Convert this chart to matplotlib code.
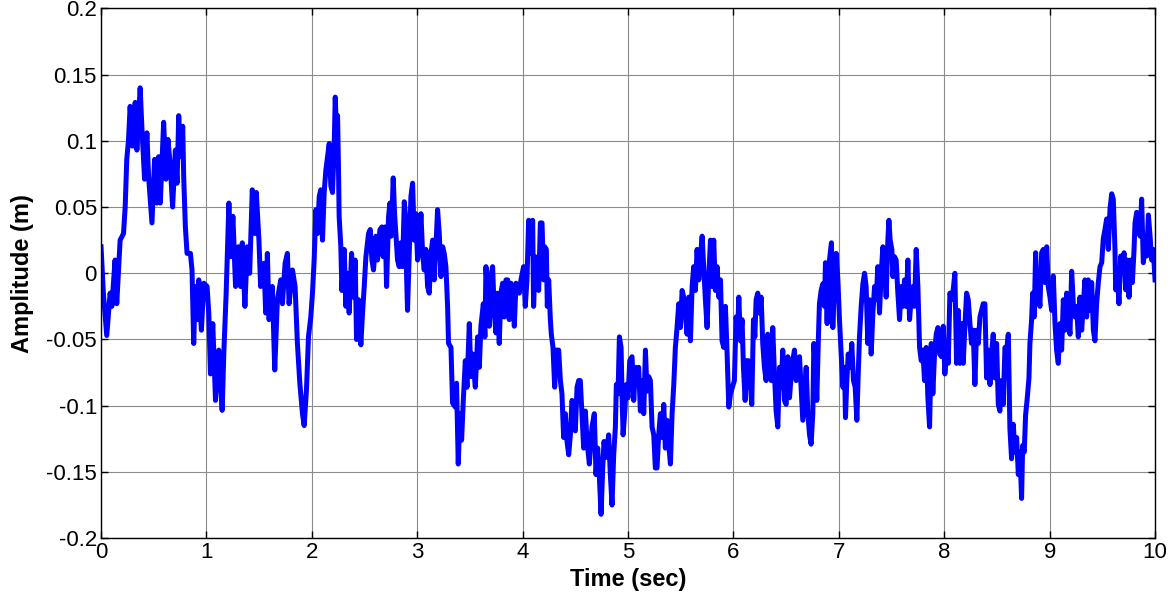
import numpy as np
import matplotlib
matplotlib.use('Agg')
import matplotlib.pyplot as plt

# trace, (time s, amplitude m), split in 2 s chunks
seg_0_2 = [
    (0.000, 0.020), (0.022, -0.015), (0.054, -0.047), (0.086, -0.015), (0.102, -0.025),
    (0.133, 0.010), (0.149, -0.023), (0.181, 0.025), (0.213, 0.030), (0.229, 0.050),
    (0.244, 0.086), (0.260, 0.100), (0.276, 0.126), (0.298, 0.096), (0.324, 0.129),
    (0.340, 0.093), (0.371, 0.140), (0.387, 0.111), (0.413, 0.071), (0.435, 0.106),
    (0.451, 0.073), (0.483, 0.038), (0.508, 0.086), (0.530, 0.053), (0.546, 0.088),
    (0.562, 0.053), (0.594, 0.114), (0.616, 0.071), (0.635, 0.101), (0.657, 0.081),
    (0.679, 0.050), (0.705, 0.093), (0.721, 0.068), (0.737, 0.119), (0.752, 0.088),
    (0.775, 0.111), (0.784, 0.073), (0.800, 0.035), (0.816, 0.015), (0.848, 0.015),
    (0.863, 0.0025), (0.879, -0.053), (0.895, -0.010), (0.911, -0.035), (0.927, -0.005),
    (0.952, -0.043), (0.975, -0.0075), (1.006, -0.010), (1.022, -0.030), (1.038, -0.076),
    (1.060, -0.038), (1.086, -0.096), (1.117, -0.058), (1.149, -0.1035), (1.165, -0.060),
    (1.187, -0.015), (1.213, 0.053), (1.229, 0.0125), (1.251, 0.043), (1.276, -0.010),
    (1.302, 0.020), (1.324, -0.010), (1.340, 0.023), (1.365, -0.025), (1.387, 0.020),
    (1.410, 0.000), (1.435, 0.063), (1.460, 0.030), (1.473, 0.061), (1.498, 0.025),
    (1.514, -0.010), (1.546, 0.0075), (1.562, -0.030), (1.578, 0.015), (1.594, -0.035),
    (1.625, -0.010), (1.648, -0.073), (1.673, -0.020), (1.705, -0.005), (1.721, -0.023),
    (1.746, 0.0075), (1.768, 0.015), (1.784, -0.023), (1.816, 0.0025), (1.841, -0.010),
    (1.863, -0.053), (1.886, -0.083), (1.911, -0.106), (1.927, -0.115), (1.949, -0.088),
    (1.968, -0.048), (1.990, -0.033),
]
seg_2_4 = [
    (2.006, -0.015), (2.022, 0.010), (2.038, 0.048), (2.054, 0.030), (2.070, 0.058),
    (2.085, 0.063), (2.101, 0.025), (2.117, 0.061), (2.133, 0.078), (2.149, 0.088),
    (2.165, 0.098), (2.180, 0.066), (2.196, 0.061), (2.212, 0.096), (2.222, 0.133),
    (2.234, 0.106), (2.244, 0.119), (2.253, 0.078), (2.259, 0.043), (2.275, 0.020),
    (2.285, -0.013), (2.307, 0.018), (2.323, -0.025), (2.339, 0.000), (2.354, -0.030),
    (2.377, 0.015), (2.392, -0.018), (2.411, 0.010), (2.424, -0.050), (2.443, -0.020),
    (2.465, -0.054), (2.481, -0.030), (2.497, -0.010), (2.513, 0.0125), (2.538, 0.030),
    (2.554, 0.033), (2.570, 0.010), (2.585, 0.0025), (2.608, 0.028), (2.623, 0.010),
    (2.646, 0.033), (2.665, 0.035), (2.677, 0.0125), (2.696, 0.035), (2.709, -0.010),
    (2.728, 0.043), (2.741, 0.053), (2.753, 0.028), (2.772, 0.072), (2.785, 0.045),
    (2.797, 0.030), (2.813, 0.010), (2.829, 0.005), (2.845, 0.023), (2.861, 0.005),
    (2.877, 0.054), (2.892, 0.040), (2.899, -0.0025), (2.908, -0.028), (2.924, 0.015),
    (2.940, 0.058), (2.956, 0.068), (2.972, 0.025), (2.987, 0.045), (3.003, 0.010),
    (3.019, 0.020), (3.035, 0.045), (3.051, 0.015), (3.066, 0.0025), (3.082, 0.018),
    (3.098, -0.010), (3.114, -0.015), (3.130, 0.015), (3.146, 0.025), (3.161, -0.005),
    (3.177, 0.020), (3.193, 0.048), (3.209, 0.030), (3.225, -0.0025), (3.241, 0.020),
    (3.256, 0.015), (3.272, 0.005), (3.288, -0.025), (3.297, -0.053), (3.320, -0.056),
    (3.335, -0.098), (3.361, -0.101), (3.373, -0.083), (3.389, -0.144), (3.405, -0.106),
    (3.421, -0.126), (3.437, -0.096), (3.456, -0.066), (3.472, -0.086), (3.494, -0.038),
    (3.509, -0.078), (3.525, -0.061), (3.551, -0.086), (3.573, -0.048), (3.589, -0.071),
    (3.604, -0.040), (3.627, -0.023), (3.642, -0.048), (3.652, 0.005), (3.668, -0.020),
    (3.684, -0.040), (3.699, -0.0025), (3.715, 0.005), (3.731, -0.030), (3.747, -0.045),
    (3.763, -0.015), (3.778, -0.053), (3.794, -0.015), (3.810, -0.0075), (3.826, -0.033),
    (3.842, -0.005), (3.858, -0.005), (3.873, -0.035), (3.889, -0.0075), (3.905, -0.015),
    (3.921, -0.040), (3.937, -0.0075), (3.968, -0.015), (3.984, -0.005),
]
seg_4_6 = [
    (4.009, 0.005), (4.025, -0.025), (4.041, -0.005), (4.057, 0.040), (4.073, 0.035),
    (4.082, 0.015), (4.095, 0.040), (4.104, -0.025), (4.120, 0.0125), (4.136, 0.000),
    (4.152, -0.013), (4.168, 0.038), (4.184, 0.038), (4.199, -0.005), (4.209, 0.020),
    (4.225, 0.018), (4.234, -0.025), (4.247, -0.005), (4.263, -0.035), (4.272, -0.046),
    (4.288, -0.056), (4.304, -0.086), (4.320, -0.058), (4.342, -0.058), (4.358, -0.081),
    (4.373, -0.091), (4.389, -0.124), (4.405, -0.106), (4.421, -0.127), (4.437, -0.137),
    (4.453, -0.122), (4.468, -0.096), (4.484, -0.101), (4.500, -0.119), (4.516, -0.086),
    (4.532, -0.081), (4.547, -0.081), (4.563, -0.106), (4.579, -0.132), (4.595, -0.104),
    (4.611, -0.127), (4.633, -0.144), (4.658, -0.116), (4.680, -0.106), (4.696, -0.152),
    (4.712, -0.132), (4.728, -0.154), (4.744, -0.182), (4.759, -0.149), (4.772, -0.127),
    (4.791, -0.139), (4.816, -0.122), (4.832, -0.152), (4.848, -0.175), (4.864, -0.137),
    (4.880, -0.116), (4.889, -0.084), (4.905, -0.091), (4.918, -0.048), (4.934, -0.056),
    (4.943, -0.091), (4.953, -0.122), (4.968, -0.106), (4.984, -0.084), (5.000, -0.094),
    (5.016, -0.066), (5.038, -0.063), (5.054, -0.096), (5.070, -0.071), (5.085, -0.078),
    (5.101, -0.071), (5.117, -0.104), (5.133, -0.081), (5.149, -0.106), (5.165, -0.058),
    (5.180, -0.089), (5.196, -0.078), (5.212, -0.081), (5.228, -0.116), (5.244, -0.122),
    (5.259, -0.147), (5.275, -0.147), (5.291, -0.122), (5.307, -0.106), (5.323, -0.124),
    (5.339, -0.099), (5.354, -0.132), (5.370, -0.111), (5.386, -0.129), (5.402, -0.144),
    (5.418, -0.106), (5.434, -0.084), (5.449, -0.056), (5.465, -0.041), (5.481, -0.023),
    (5.497, -0.041), (5.513, -0.013), (5.528, -0.018), (5.544, -0.030), (5.560, -0.046),
    (5.576, -0.018), (5.592, -0.051), (5.608, -0.010), (5.623, 0.005), (5.639, -0.013),
    (5.655, 0.018), (5.671, -0.005), (5.687, 0.0125), (5.703, 0.028), (5.718, 0.005),
    (5.734, -0.020), (5.750, -0.041), (5.766, -0.0025), (5.782, 0.025), (5.797, -0.010),
    (5.813, 0.025), (5.829, -0.013), (5.845, 0.005), (5.861, -0.018), (5.877, -0.005),
    (5.892, -0.051), (5.908, -0.056), (5.924, -0.025), (5.940, -0.061), (5.956, -0.101),
    (5.972, -0.091),
]
seg_6_8 = [
    (6.009, -0.081), (6.025, -0.033), (6.041, -0.043), (6.051, -0.018), (6.066, -0.051),
    (6.082, -0.035), (6.095, -0.071), (6.111, -0.096), (6.127, -0.066), (6.142, -0.066),
    (6.158, -0.081), (6.174, -0.099), (6.190, -0.035), (6.203, -0.048), (6.215, -0.020),
    (6.231, -0.015), (6.247, -0.030), (6.263, -0.018), (6.278, -0.053), (6.294, -0.071),
    (6.310, -0.081), (6.326, -0.046), (6.342, -0.056), (6.358, -0.081), (6.373, -0.041),
    (6.389, -0.076), (6.405, -0.104), (6.421, -0.116), (6.437, -0.071), (6.453, -0.086),
    (6.468, -0.058), (6.484, -0.096), (6.500, -0.099), (6.516, -0.063), (6.532, -0.094),
    (6.547, -0.078), (6.563, -0.066), (6.579, -0.058), (6.595, -0.081), (6.611, -0.073),
    (6.627, -0.063), (6.642, -0.086), (6.658, -0.111), (6.674, -0.091), (6.690, -0.071),
    (6.706, -0.106), (6.722, -0.122), (6.737, -0.129), (6.753, -0.106), (6.763, -0.053),
    (6.778, -0.071), (6.791, -0.096), (6.807, -0.046), (6.816, -0.023), (6.832, -0.013),
    (6.848, -0.008), (6.864, -0.025), (6.873, 0.008), (6.889, -0.038), (6.902, 0.0025),
    (6.918, 0.015), (6.930, 0.023), (6.943, -0.041), (6.959, -0.005), (6.975, 0.015),
    (6.991, -0.005), (7.006, -0.035), (7.022, -0.061), (7.038, -0.086), (7.054, -0.071),
    (7.063, -0.109), (7.076, -0.081), (7.089, -0.061), (7.108, -0.071), (7.123, -0.053),
    (7.139, -0.081), (7.155, -0.086), (7.171, -0.111), (7.184, -0.076), (7.196, -0.048),
    (7.212, -0.025), (7.228, -0.008), (7.244, 0.000), (7.259, -0.010), (7.275, -0.053),
    (7.291, -0.020), (7.307, -0.061), (7.323, -0.030), (7.339, -0.010), (7.354, -0.020),
    (7.370, 0.005), (7.386, -0.030), (7.402, 0.000), (7.418, 0.020), (7.434, 0.005),
    (7.449, -0.018), (7.465, 0.025), (7.475, 0.040), (7.487, 0.025), (7.503, 0.018),
    (7.513, -0.0025), (7.528, 0.0125), (7.544, 0.010), (7.560, -0.015), (7.576, -0.035),
    (7.592, -0.010), (7.608, -0.025), (7.623, -0.005), (7.639, -0.025), (7.655, 0.010),
    (7.671, -0.035), (7.687, -0.018), (7.703, -0.010), (7.718, -0.025), (7.734, 0.018),
    (7.750, -0.010), (7.766, -0.056), (7.782, -0.066), (7.797, -0.058), (7.813, -0.081),
    (7.829, -0.056), (7.845, -0.094), (7.861, -0.116), (7.877, -0.053), (7.892, -0.091),
    (7.908, -0.061), (7.924, -0.046), (7.940, -0.041), (7.956, -0.061),
]
seg_8_10 = [
    (7.975, -0.063), (7.991, -0.040), (8.006, -0.076), (8.022, -0.058), (8.038, -0.068),
    (8.054, -0.015), (8.070, -0.020), (8.085, -0.0125), (8.101, 0.000), (8.117, -0.068),
    (8.133, -0.028), (8.149, -0.068), (8.165, -0.038), (8.180, -0.068), (8.196, -0.040),
    (8.212, -0.015), (8.228, -0.020), (8.244, -0.038), (8.259, -0.053), (8.275, -0.043),
    (8.291, -0.084), (8.307, -0.043), (8.323, -0.053), (8.339, -0.033), (8.354, -0.028),
    (8.370, -0.023), (8.386, -0.023), (8.402, -0.079), (8.418, -0.058), (8.434, -0.084),
    (8.449, -0.061), (8.465, -0.046), (8.481, -0.079), (8.497, -0.053), (8.513, -0.099),
    (8.528, -0.104), (8.544, -0.081), (8.560, -0.099), (8.576, -0.056), (8.592, -0.058),
    (8.608, -0.046), (8.623, -0.117), (8.639, -0.140), (8.655, -0.114), (8.671, -0.135),
    (8.687, -0.124), (8.703, -0.152), (8.718, -0.135), (8.734, -0.170), (8.744, -0.130),
    (8.759, -0.135), (8.772, -0.107), (8.788, -0.094), (8.804, -0.079), (8.813, -0.053),
    (8.829, -0.035), (8.839, -0.015), (8.854, -0.033), (8.867, 0.0155), (8.880, -0.018),
    (8.892, -0.0125), (8.908, -0.025), (8.924, 0.0155), (8.940, 0.018), (8.956, -0.007),
    (8.972, 0.020), (8.987, -0.010), (9.003, -0.018), (9.019, -0.028), (9.035, -0.002),
    (9.051, -0.038), (9.066, -0.058), (9.082, -0.068), (9.098, -0.038), (9.114, -0.058),
    (9.130, -0.020), (9.146, -0.043), (9.161, -0.015), (9.177, -0.033), (9.193, -0.046),
    (9.209, 0.0015), (9.225, -0.023), (9.241, -0.033), (9.256, -0.025), (9.272, -0.048),
    (9.288, -0.018), (9.304, -0.043), (9.320, -0.023), (9.335, -0.005), (9.351, -0.033),
    (9.367, -0.005), (9.383, -0.028), (9.399, -0.007), (9.415, -0.043), (9.430, -0.051),
    (9.446, -0.023), (9.462, -0.007), (9.478, 0.005), (9.494, 0.008), (9.509, 0.026),
    (9.525, 0.033), (9.541, 0.041), (9.557, 0.018), (9.573, 0.049), (9.589, 0.060),
    (9.604, 0.056), (9.620, 0.018), (9.627, -0.0125), (9.642, -0.002), (9.658, -0.023),
    (9.674, 0.013), (9.690, 0.005), (9.706, 0.0155), (9.722, -0.0125), (9.737, 0.010),
    (9.753, -0.018), (9.769, 0.010), (9.785, -0.007), (9.801, 0.018), (9.810, 0.038),
    (9.826, 0.046), (9.842, 0.044), (9.858, 0.028), (9.873, 0.056), (9.889, 0.008),
    (9.905, 0.023), (9.921, 0.013), (9.937, 0.044), (9.953, 0.028), (9.968, 0.010),
    (9.984, 0.018), (10.000, -0.005),
]

x_ticks = list(range(0, 11))
y_ticks = [-0.2, -0.15, -0.1, -0.05, 0, 0.05, 0.1, 0.15, 0.2]

trace = np.array(seg_0_2 + seg_2_4 + seg_4_6 + seg_6_8 + seg_8_10)
t, amp = trace[:, 0], trace[:, 1]

plt.rcParams['font.family'] = ['Liberation Sans', 'DejaVu Sans']
plt.rcParams['axes.unicode_minus'] = False

fig = plt.figure(figsize=(11.75, 5.96), dpi=100)
ax = fig.add_axes([0.086, 0.097, 0.897, 0.889])

ax.plot(t, amp, color='#0000ff', linewidth=3.6, solid_joinstyle='round')

ax.set_xlim(0, 10)
ax.set_ylim(-0.2, 0.2)
ax.set_xticks(x_ticks)
ax.set_yticks(y_ticks)
ax.set_yticklabels(['%g' % v for v in y_ticks])
ax.grid(True, color='#8c8c8c', linewidth=0.8)
ax.set_axisbelow(True)
ax.tick_params(direction='in', top=True, right=True, labelsize=16, length=5,
               width=1, pad=3)
for s in ax.spines.values():
    s.set_linewidth(1.0)

ax.set_xlabel('Time (sec)', fontsize=17, fontweight='bold', labelpad=3)
ax.set_ylabel('Amplitude (m)', fontsize=17, fontweight='bold', labelpad=9)

fig.savefig('out.png', dpi=100)
